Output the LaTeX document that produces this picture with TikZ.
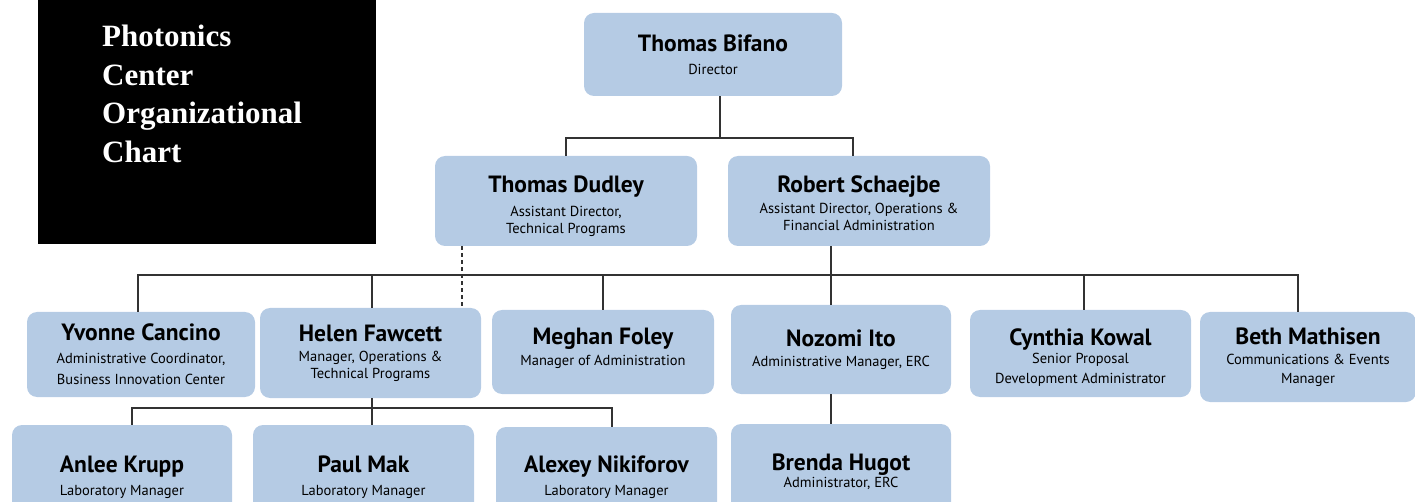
\documentclass[tikz,border=0pt]{standalone}
\usepackage{fontspec}
\setmainfont{PT Sans}
\newfontfamily\titlefont{Liberation Serif}
\definecolor{boxblue}{RGB}{181,203,228}
\definecolor{linegray}{RGB}{50,50,50}
\newcommand\nm[1]{{\fontsize{23.5}{26}\selectfont\bfseries #1}}
\newcommand\pad[1]{\rule{0pt}{#1}}
\begin{document}
\begin{tikzpicture}[x=1pt,y=-1pt,
  box/.style={fill=boxblue, rounded corners=10pt, align=center, inner sep=0pt,
    font=\fontsize{14.5}{17}\selectfont},
  conn/.style={draw=linegray, line width=1.3pt},
  dconn/.style={draw=linegray, line width=1.1pt, dash pattern=on 4pt off 3pt}]
\useasboundingbox (0,0) rectangle (1415,502);
\begin{scope}
\clip (0,0) rectangle (1415,502);
% title block
\fill[black] (38,0) rectangle (376,244);
\node[anchor=north west, text=white, align=left, inner sep=0pt,
  font=\titlefont\bfseries\fontsize{31}{38.5}\selectfont] (title) at (102,25)
  {Photonics\\Center\\Organizational\\Chart};
% level 1
\node[box, minimum width=258, minimum height=83] (bifano) at (713,54.5)
  {\nm{Thomas Bifano}\\[6pt]Director};
% level 2
\node[box, minimum width=262, minimum height=90] (dudley) at (566,201)
  {\pad{28pt}\nm{Thomas Dudley}\\[7pt]Assistant Director,\\Technical Programs};
\node[box, minimum width=262, minimum height=90] (schaejbe) at (859,201)
  {\pad{22pt}\nm{Robert Schaejbe}\\[4pt]Assistant Director, Operations \&\\Financial Administration};
% level 3
\node[box, minimum width=228, minimum height=85] (cancino) at (141,354.5)
  {\nm{Yvonne Cancino}\\[6pt]Administrative Coordinator,\\[4pt]Business Innovation Center};
\node[box, minimum width=221, minimum height=90] (fawcett) at (370.5,353)
  {\nm{Helen Fawcett}\\[3pt]Manager, Operations \&\\Technical Programs};
\node[box, minimum width=222, minimum height=84] (foley) at (603,352)
  {\nm{Meghan Foley}\\[4pt]Manager of Administration\\[-6pt]\mbox{}};
\node[box, minimum width=220, minimum height=89] (ito) at (841,349.5)
  {\nm{Nozomi Ito}\\[3pt]Administrative Manager, ERC};
\node[box, minimum width=221, minimum height=87] (kowal) at (1080.5,353.5)
  {\pad{25pt}\nm{Cynthia Kowal}\\[1pt]Senior Proposal\\[3pt]Development Administrator};
\node[box, minimum width=216, minimum height=90] (mathisen) at (1308,357)
  {\nm{Beth Mathisen}\\[3pt]Communications \& Events\\[2pt]Manager};
% level 4
\node[box, minimum width=220, minimum height=95] (krupp) at (122,472.5)
  {\pad{26pt}\nm{Anlee Krupp}\\[6pt]Laboratory Manager};
\node[box, minimum width=221, minimum height=95] (mak) at (363.5,472.5)
  {\pad{26pt}\nm{Paul Mak}\\[6pt]Laboratory Manager};
\node[box, minimum width=221, minimum height=93] (nikiforov) at (606.5,473.5)
  {\pad{24pt}\nm{Alexey Nikiforov}\\[6pt]Laboratory Manager};
\node[box, minimum width=220, minimum height=96] (hugot) at (841,472)
  {\nm{Brenda Hugot}\\[0pt]Administrator, ERC};
% connectors
\coordinate (b1) at (720,138);
\draw[conn] (bifano.south -| b1) -- (b1);
\draw[conn] (dudley.north) |- (b1) -| ([xshift=-6pt]schaejbe.north);
\coordinate (bus) at (831,275);
\draw[conn] (schaejbe.south -| bus) -- (bus);
\draw[conn] (cancino.north -| 138,0) |- (bus);
\draw[conn] (bus) -| (mathisen.north -| 1298,0);
\draw[conn] (fawcett.north -| 372,0) -- (372,275);
\draw[conn] (foley.north) -- (foley.north |- bus);
\draw[conn] (ito.north -| bus) -- (bus);
\draw[conn] (kowal.north -| 1084,0) -- (1084,275);
\draw[dconn] (dudley.south -| 462,0) -- (fawcett.north -| 462,0);
\coordinate (bus2) at (372,408);
\draw[conn] (fawcett.south -| bus2) -- (bus2);
\draw[conn] (krupp.north -| 132,0) |- (bus2) -| (nikiforov.north -| 612,0);
\draw[conn] (mak.north -| bus2) -- (bus2);
\draw[conn] (ito.south -| 831,0) -- (hugot.north -| 831,0);
\end{scope}
\end{tikzpicture}
\end{document}
